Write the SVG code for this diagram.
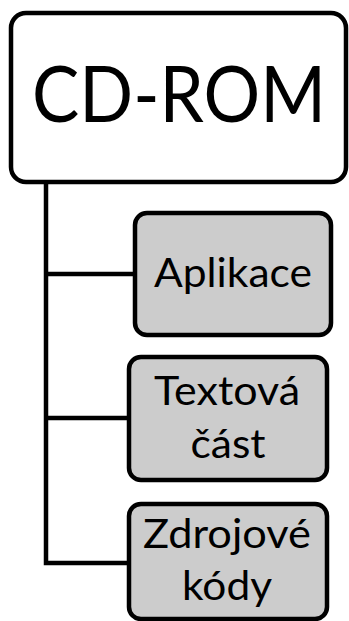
<svg xmlns="http://www.w3.org/2000/svg" width="349" height="621" viewBox="0 0 349 621">
  <style>
    .box { stroke: #000; stroke-width: 4.5; }
    .root { fill: #ffffff; }
    .child { fill: #cccccc; }
    .link { fill: none; stroke: #000; stroke-width: 4.5; stroke-linejoin: miter; }
    text { font-family: Lato, "Open Sans", "Liberation Sans", sans-serif; fill: #000; text-anchor: middle; }
    .big { font-size: 77px; }
    .lbl { font-size: 41px; }
  </style>
  <rect width="349" height="621" fill="#ffffff"/>

  <g id="connectors">
    <path class="link" d="M46,183 V563 H129"/>
    <line class="link" x1="46" y1="274" x2="135" y2="274"/>
    <line class="link" x1="46" y1="418" x2="129" y2="418"/>
  </g>

  <g id="cd-rom">
    <rect class="box root" x="11" y="13" width="335" height="169" rx="15"/>
    <text class="big" x="179" y="122" textLength="294" lengthAdjust="spacingAndGlyphs">CD-ROM</text>
  </g>

  <g id="aplikace">
    <rect class="box child" x="135" y="213" width="196" height="122" rx="12"/>
    <text class="lbl" x="233" y="287" textLength="158" lengthAdjust="spacingAndGlyphs">Aplikace</text>
  </g>

  <g id="textova-cast">
    <rect class="box child" x="129" y="357" width="198" height="123" rx="12"/>
    <text class="lbl" x="227" y="405" textLength="146" lengthAdjust="spacingAndGlyphs">Textová</text>
    <text class="lbl" x="228" y="458" textLength="75" lengthAdjust="spacingAndGlyphs">část</text>
  </g>

  <g id="zdrojove-kody">
    <rect class="box child" x="129" y="504" width="198" height="115" rx="12"/>
    <text class="lbl" x="227" y="548" textLength="168" lengthAdjust="spacingAndGlyphs">Zdrojové</text>
    <text class="lbl" x="227" y="600" textLength="90" lengthAdjust="spacingAndGlyphs">kódy</text>
  </g>
</svg>
